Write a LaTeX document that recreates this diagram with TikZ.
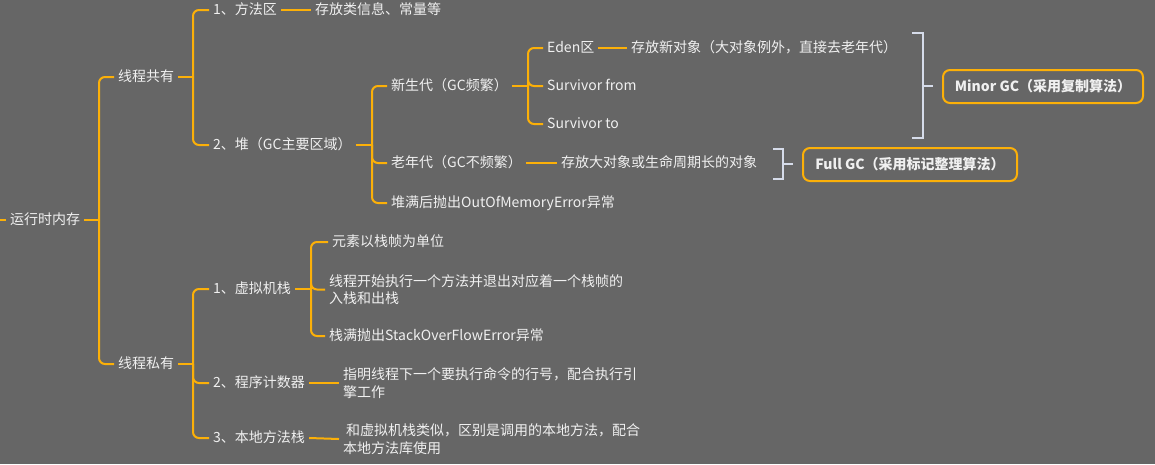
\documentclass[tikz,border=0pt]{standalone}
\usepackage{fontspec}
\setmainfont{Noto Sans CJK SC}
\definecolor{bgc}{RGB}{102,102,102}
\definecolor{brc}{RGB}{252,176,8}
\definecolor{txc}{RGB}{240,240,240}
\definecolor{bkc}{RGB}{214,220,234}
\tikzset{
  lbl/.style={anchor=west, text=txc, inner xsep=4pt, inner ysep=1pt, text height=11.5pt, text depth=2.5pt,
    font=\fontsize{14pt}{17.5pt}\selectfont},
  lbl2/.style={anchor=west, text=txc, inner xsep=4pt, inner ysep=1pt, align=left,
    font=\fontsize{14pt}{17.5pt}\selectfont},
  branch/.style={draw=brc, line width=2pt, rounded corners=6pt},
  gcbox/.style={draw=brc, line width=2pt, rounded corners=7pt, text=txc,
    font=\fontsize{14pt}{17pt}\selectfont\bfseries, minimum height=33pt, inner sep=0pt},
  bracketline/.style={draw=bkc, line width=2pt},
}
\begin{document}
\begin{tikzpicture}[x=1pt,y=-1pt]
\useasboundingbox (0,0) rectangle (1155,464);
\fill[bgc] (0,0) rectangle (1155,464);

% nodes
\node[lbl] (root) at (6,220) {运行时内存};
\node[lbl] (shared) at (114,77) {线程共有};
\node[lbl] (private) at (114,364) {线程私有};
\node[lbl] (method) at (209,10) {1、方法区};
\node[lbl] (methodd) at (311,10) {存放类信息、常量等};
\node[lbl] (heap) at (209,145) {2、堆（GC主要区域）};
\node[lbl] (young) at (387,86) {新生代（GC频繁）};
\node[lbl] (old) at (387,163) {老年代（GC不频繁）};
\node[lbl] (oom) at (387,203) {堆满后抛出OutOfMemoryError异常};
\node[lbl] (eden) at (543,48) {Eden区};
\node[lbl] (edend) at (627,48) {存放新对象（大对象例外，直接去老年代）};
\node[lbl] (sfrom) at (543,86) {Survivor from};
\node[lbl] (sto) at (543,124) {Survivor to};
\node[lbl] (oldd) at (557,163) {存放大对象或生命周期长的对象};
\node[gcbox, minimum width=200pt] (minor) at (1043,86.5) {Minor GC（采用复制算法）};
\node[gcbox, minimum width=214pt] (full) at (910,164.5) {Full GC（采用标记整理算法）};
\node[lbl] (vms) at (209,289) {1、虚拟机栈};
\node[lbl] (vms1) at (328,242) {元素以栈帧为单位};
\node[lbl2] (vms2) at (325,289.5) {线程开始执行一个方法并退出对应着一个栈帧的\\入栈和出栈};
\node[lbl] (vms3) at (325,336) {栈满抛出StackOverFlowError异常};
\node[lbl] (pc) at (209,383) {2、程序计数器};
\node[lbl2] (pcd) at (339,383) {指明线程下一个要执行命令的行号，配合执行引\\擎工作};
\node[lbl] (nms) at (209,438) {3、本地方法栈};
\node[lbl2] (nmsd) at (339,439) {\hspace{3pt}和虚拟机栈类似，区别是调用的本地方法，配合\\本地方法库使用};

% junction coordinates
\coordinate (rin) at (0,220);
\coordinate (j0) at (99,220);
\coordinate (j1) at (193,77);
\coordinate (j2) at (193,364);
\coordinate (j3) at (372,145);
\coordinate (j4) at (528,86);
\coordinate (j5) at (311,289);

% root
\draw[branch] (rin) -- (root.west);
\draw[branch] (root.east) -- (j0);
\draw[branch] (j0) |- (shared.west);
\draw[branch] (j0) |- (private.west);
% shared
\draw[branch] (shared.east) -- (j1);
\draw[branch] (j1) |- (method.west);
\draw[branch] (j1) |- (heap.west);
\draw[branch] (method.east) -- (methodd.west);
% heap
\draw[branch] (heap.east) -- (j3);
\draw[branch] (j3) |- (young.west);
\draw[branch] (j3) |- (old.west);
\draw[branch] (j3) |- (oom.west);
% young
\draw[branch] (young.east) -- (j4);
\draw[branch] (j4) |- (eden.west);
\draw[branch] (j4) |- (sfrom.west);
\draw[branch] (j4) |- (sto.west);
\draw[branch] (eden.east) -- (edend.west);
\draw[branch] (old.east) -- (oldd.west);
% private
\draw[branch] (private.east) -- (j2);
\draw[branch] (j2) |- (vms.west);
\draw[branch] (j2) |- (pc.west);
\draw[branch] (j2) |- (nms.west);
\draw[branch] (vms.east) -- (j5);
\draw[branch] (j5) |- (vms1.west);
\draw[branch] (j5) |- (vms2.west);
\draw[branch] (j5) |- (vms3.west);
\draw[branch] (pc.east) -- (pcd.west);
\draw[branch] (nms.east) -- (nmsd.west);

% brackets
\coordinate (b1) at (923,86);
\coordinate (b1t) at (933,86);
\draw[bracketline] (912,33) -- (923,33) -- (923,138) -- (912,138);
\draw[bracketline] (b1) -- (b1t);
\coordinate (b2) at (783,164);
\coordinate (b2t) at (793,164);
\draw[bracketline] (773,149) -- (783,149) -- (783,179) -- (773,179);
\draw[bracketline] (b2) -- (b2t);
\end{tikzpicture}
\end{document}
